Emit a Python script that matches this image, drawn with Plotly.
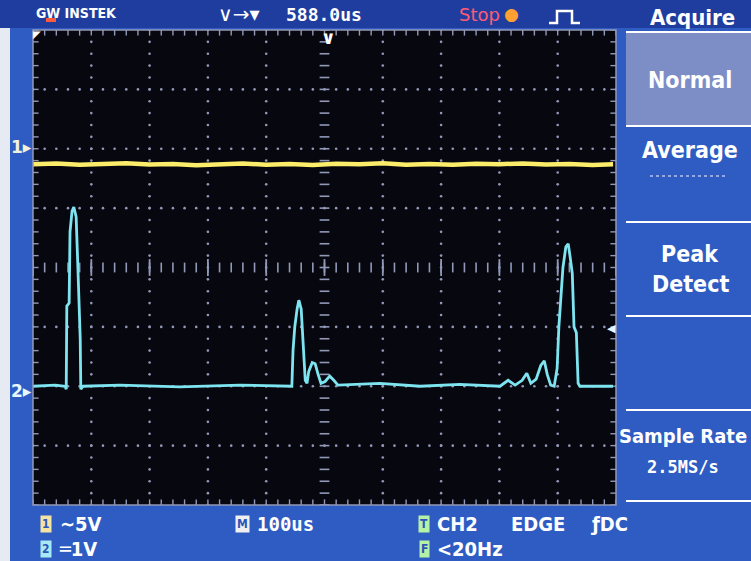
import numpy as np
import plotly.graph_objects as go

# ---------------- data ----------------
ch1_time_us = [0, 40, 80, 120, 160, 200, 240, 280, 320, 360, 400, 440, 480, 520,
               560, 600, 640, 680, 720, 760, 800, 840, 880, 920, 960, 995]
ch1_volts = [-1.30, -1.25, -1.35, -1.30, -1.22, -1.33, -1.28, -1.38, -1.30, -1.24,
             -1.34, -1.29, -1.36, -1.26, -1.31, -1.22, -1.34, -1.28, -1.35, -1.27,
             -1.30, -1.24, -1.33, -1.29, -1.36, -1.30]
ch1_scale_v = 5.0
ch1_offset_div = 2.0

ch2_time_us = [0, 38, 55, 57, 58, 62, 63.5, 67, 70, 74, 77, 81, 82, 86,
               149, 252, 355, 441,
               444, 446, 449, 453, 456, 460, 463, 467, 470, 473, 479, 484, 489, 494,
               501, 509, 516, 523,
               595, 664, 732, 801,
               815, 827, 839, 847, 854, 863, 871, 877, 882, 888, 894,
               899, 902, 906, 909, 914, 918, 921, 925, 928, 932, 935, 938, 995]
ch2_volts = [0.0, 0.02, 0.0, -0.05, 1.35, 1.40, 2.6, 2.95, 3.02, 2.85, 2.0, 0.8, -0.05, 0.0,
             0.02, -0.01, 0.02, 0.0,
             0.0, 0.6, 1.0, 1.3, 1.45, 1.3, 0.7, 0.1, 0.05, 0.25, 0.4, 0.38, 0.2, 0.05,
             0.08, 0.17, 0.1, 0.02,
             0.05, 0.0, 0.03, 0.0,
             0.1, 0.02, 0.1, 0.22, 0.05, 0.12, 0.35, 0.43, 0.2, 0.02, 0.0,
             0.3, 1.0, 1.5, 2.0, 2.35, 2.4, 2.2, 1.9, 1.0, 0.9, 0.05, 0.0, 0.0]
ch2_scale_v = 1.0
ch2_offset_div = -2.0

x_divs = 10
y_divs = 8
time_per_div_us = 100

# ---------------- layout geometry ----------------
W, H = 751, 561
L, R, T, B = 33, 616, 30, 505


def px(x):
    return (x - L) / (R - L)


def py(y):
    return (B - y) / (B - T)


y1 = [ch1_offset_div + v / ch1_scale_v for v in ch1_volts]
y2 = [ch2_offset_div + v / ch2_scale_v for v in ch2_volts]

xmax = x_divs * time_per_div_us
fig = go.Figure()

GRID = "#9298b8"

# grid dots along grid lines (non-center)
gx, gy = [], []
for k in range(1, x_divs):
    if k == x_divs // 2:
        continue
    for j in np.arange(-4, 4.001, 0.2):
        gx.append(k * time_per_div_us)
        gy.append(j)
for k in range(-3, 4):
    if k == 0:
        continue
    for j in np.arange(0, xmax + 0.1, 20):
        gx.append(j)
        gy.append(k)
fig.add_trace(go.Scatter(x=gx, y=gy, mode="markers",
                         marker=dict(size=2.6, color=GRID), hoverinfo="skip"))

# center axes ticks
cy = list(np.arange(-4, 4.001, 0.2))
fig.add_trace(go.Scatter(x=[xmax / 2] * len(cy), y=cy, mode="markers",
                         marker=dict(symbol="line-ew", size=7,
                                     line=dict(width=1.6, color=GRID)), hoverinfo="skip"))
hx = list(np.arange(0, xmax + 0.1, 20))
fig.add_trace(go.Scatter(x=hx, y=[0] * len(hx), mode="markers",
                         marker=dict(symbol="line-ns", size=7,
                                     line=dict(width=1.6, color=GRID)), hoverinfo="skip"))
mx = [k * time_per_div_us for k in range(0, x_divs + 1)]
fig.add_trace(go.Scatter(x=mx, y=[0] * len(mx), mode="markers",
                         marker=dict(symbol="line-ns", size=12,
                                     line=dict(width=1.8, color=GRID)), hoverinfo="skip"))
# frame ticks
fx = list(np.arange(0, xmax + 0.1, 20))
fig.add_trace(go.Scatter(x=fx + fx, y=[4] * len(fx) + [-4] * len(fx), mode="markers",
                         marker=dict(symbol="line-ns", size=8,
                                     line=dict(width=1.4, color=GRID)), hoverinfo="skip"))
fyv = list(np.arange(-4, 4.001, 0.2))
fig.add_trace(go.Scatter(x=[0] * len(fyv) + [xmax] * len(fyv), y=fyv + fyv, mode="markers",
                         marker=dict(symbol="line-ew", size=8,
                                     line=dict(width=1.4, color=GRID)), hoverinfo="skip"))

# channel traces
fig.add_trace(go.Scatter(x=ch1_time_us, y=y1, mode="lines",
                         line=dict(color="#fbec6a", width=4.5), hoverinfo="skip"))
fig.add_trace(go.Scatter(x=ch2_time_us, y=y2, mode="lines",
                         line=dict(color="#7de4f0", width=2.8), hoverinfo="skip"))

shapes = []


def rect(x0, y0, x1, y1_, color, layer="below"):
    shapes.append(dict(type="rect", xref="paper", yref="paper",
                       x0=px(x0), x1=px(x1), y0=py(y1_), y1=py(y0),
                       fillcolor=color, line=dict(width=0), layer=layer))


def hline(x0, x1, y, color="white", width=2, dash="solid"):
    shapes.append(dict(type="line", xref="paper", yref="paper",
                       x0=px(x0), x1=px(x1), y0=py(y), y1=py(y),
                       line=dict(color=color, width=width, dash=dash), layer="above"))


# background areas
rect(0, 0, W, 28, "#1f3d9e")
rect(0, 28, 10, H, "#e6eaf2")
rect(626, 33, W, 125, "#7d8dc6")
# plot border
shapes.append(dict(type="rect", xref="paper", yref="paper", x0=0, x1=1, y0=0, y1=1,
                   line=dict(color=GRID, width=1.5), layer="above"))
# menu separator lines
for yy in [32, 126, 222, 316, 410, 501]:
    hline(626, W, yy)
hline(650, 726, 176, color="#b8c2e8", width=1.5, dash="dot")
# red underline in logo
rect(46, 18, 56, 22, "#ff5a3a", layer="above")
# trigger type icon (square pulse)
path = "M {},{} L {},{} L {},{} L {},{} L {},{} L {},{}".format(
    px(549), py(23), px(557), py(23), px(557), py(11), px(572), py(11),
    px(572), py(23), px(580), py(23))
shapes.append(dict(type="path", xref="paper", yref="paper", path=path,
                   line=dict(color="white", width=2.5), layer="above"))

anns = []


def ann(x, y, text, size, color="white", family="DejaVu Sans Condensed", anchor="center",
        bg=None, pad=1):
    d = dict(x=px(x), y=py(y), xref="paper", yref="paper", text=text, showarrow=False,
             xanchor=anchor, yanchor="middle",
             font=dict(size=size, color=color, family=family))
    if bg:
        d["bgcolor"] = bg
        d["borderpad"] = pad
    anns.append(d)


MONO = "DejaVu Sans Mono"
COND = "DejaVu Sans Condensed"
# top bar
ann(34, 13, "<b>GW INSTEK</b>", 14, family=COND, anchor="left")
ann(216, 14, "∨→▾", 20, anchor="left", family="DejaVu Sans")
ann(284, 14, "<b>588.0us</b>", 18, family=MONO, anchor="left")
ann(457, 14, "Stop", 18, color="#ff5b78", family="DejaVu Sans", anchor="left")
ann(511, 14, "●", 17, color="#ffa030", family="DejaVu Sans")
ann(692, 17, "<b>Acquire</b>", 22, family=COND)

# right menu
ann(690, 80, "<b>Normal</b>", 23, family=COND)
ann(690, 150, "<b>Average</b>", 23, family=COND)
ann(690, 254, "<b>Peak</b>", 23, family=COND)
ann(690, 284, "<b>Detect</b>", 23, family=COND)
ann(683, 436, "<b>Sample Rate</b>", 20, family=COND)
ann(683, 467, "<b>2.5MS/s</b>", 17, family=MONO)

# screen markers
ann(21, 147, "<b>1▸</b>", 17, color="#f4f0dc", family="DejaVu Sans")
ann(21, 391, "<b>2▸</b>", 17, color="#e8f8ff", family="DejaVu Sans")
ann(611, 328, "◀", 11, color="#e8f4ff", family="DejaVu Sans")
ann(37, 34, "◤", 10, color="#ffffff", family="DejaVu Sans")
ann(328, 37, "<b>∨</b>", 18, color="#ffffff", family="DejaVu Sans")

# bottom status
BF = COND
ann(46, 524, "<b>1</b>", 12, color="#2b56b8", bg="#f4e4a4", family=BF, pad=1)
ann(58, 524, "<b>∼5V</b>", 20, family=BF, anchor="left")
ann(46, 549, "<b>2</b>", 12, color="#2b56b8", bg="#a9e9f4", family=BF, pad=1)
ann(57, 549, "<b>═1V</b>", 20, family=BF, anchor="left")
ann(242, 524, "<b>M</b>", 12, color="#2b56b8", bg="#f0f0f0", family=BF, pad=1)
ann(255, 524, "<b>100us</b>", 19, family=MONO, anchor="left")
ann(424, 524, "<b>T</b>", 12, color="#2b56b8", bg="#b6f2a6", family=BF, pad=1)
ann(435, 524, "<b>CH2</b>", 20, family=BF, anchor="left")
ann(509, 524, "<b>EDGE</b>", 20, family=BF, anchor="left")
ann(588, 524, "<b>ƒDC</b>", 20, family=BF, anchor="left")
ann(424, 549, "<b>F</b>", 12, color="#2b56b8", bg="#b6f2a6", family=BF, pad=1)
ann(435, 549, "<b>&lt;20Hz</b>", 20, family=BF, anchor="left")

fig.update_layout(
    width=W, height=H,
    margin=dict(l=L, r=W - R, t=T, b=H - B, pad=0),
    paper_bgcolor="#2e5cc2",
    plot_bgcolor="#07080f",
    showlegend=False,
    shapes=shapes,
    annotations=anns,
    xaxis=dict(range=[0, xmax], visible=False, fixedrange=True),
    yaxis=dict(range=[-y_divs / 2, y_divs / 2], visible=False, fixedrange=True),
)

fig.write_html("out.html", config={"displayModeBar": False},
               post_script="document.body.style.margin='0';document.body.style.overflow='hidden';")
